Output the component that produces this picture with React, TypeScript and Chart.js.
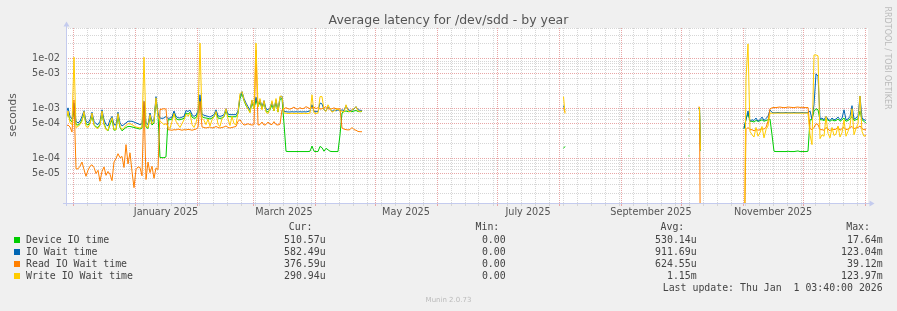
import { useEffect, useRef } from "react";
import { Chart, registerables } from "chart.js";

Chart.register(...registerables);

// ---------- text ----------
const TITLE = "Average latency for /dev/sdd - by year";
const Y_TITLE = "seconds";
const WATERMARK = "RRDTOOL / TOBI OETIKER";
const FOOTER = "Munin 2.0.73";
const LAST_UPDATE = "Last update: Thu Jan  1 03:40:00 2026";

// ---------- legend ----------
const SERIES_NAMES = ["Device IO time", "IO Wait time", "Read IO Wait time", "Write IO Wait time"];
const SERIES_COLORS = ["#00cc00", "#0066b3", "#ff8000", "#ffcc00"];
const CUR = ["510.57u", "582.49u", "376.59u", "290.94u"];
const MIN = ["0.00", "0.00", "0.00", "0.00"];
const AVG = ["530.14u", "911.69u", "624.55u", "1.15m"];
const MAX = ["17.64m", "123.04m", "39.12m", "123.97m"];

// ---------- x axis (days since 2024-11-27 12:00) ----------
const X_MAX_DAY = 401;
const MONTH_START_DAYS = [3.5, 34.5, 65.5, 93.5, 124.5, 154.5, 185.5, 215.5, 246.5, 277.5, 307.5, 338.5, 368.5, 399.5];
const FIRST_SUNDAY_DAY = 3.5;
const MONTH_LABELS = ["January 2025", "March 2025", "May 2025", "July 2025", "September 2025", "November 2025"];
const MONTH_LABEL_DAYS = [50, 109, 170, 231, 292.5, 353.5];

// ---------- y axis (seconds, log) ----------
const Y_MIN = 1.28e-5;
const Y_MAX = 4.17e-2;

// ---------- data (microseconds) ----------
// segment A: one value per day, day 0 .. 148
const SEG_A_FIRST_DAY = 0;
const DEVICE_A = [
  650, 800, 600, 540, 900, 480, 470, 500, 600, 780,
  500, 470, 520, 700, 480, 430, 420, 480, 780, 500,
  400, 360, 480, 600, 370, 380, 700, 420, 360, 390,
  420, 440, 440, 430, 420, 410, 400, 390, 410, 1100,
  430, 400, 700, 470, 520, 1500, 760,
  105, 104, 104, 108, 600, 600, 620, 820, 640, 600,
  600, 620, 640, 820, 780, 840, 680, 640, 660, 820,
  1500,
  700, 660, 650, 640, 620, 650, 690, 850, 650, 640,
  650, 690, 900, 700, 690, 690, 690, 690, 800, 1600,
  2000, 1450, 1150, 1000, 860, 1300, 1000, 1500, 1100, 1350,
  1000, 1300, 900, 860, 950, 1200, 900, 1350, 860, 1550,
  1600,
  500, 140, 138, 138, 138, 138, 138, 138, 138, 138,
  138, 138, 138, 140, 178, 140, 138, 138, 175, 165,
  140, 160, 150, 140, 138, 138, 138, 138, 300,
  820, 880, 900, 870, 880, 870, 900, 920, 880, 870, 880,
];
const IOWAIT_A = [
  800, 1040, 700, 620, 1300, 560, 520, 560, 700, 910,
  560, 520, 600, 850, 560, 500, 480, 560, 950, 600,
  480, 450, 600, 700, 480, 470, 850, 520, 450, 480,
  520, 560, 560, 560, 540, 520, 500, 480, 500, 1400,
  520, 480, 820, 560, 600, 1750, 800,
  650, 640, 650, 700, 640, 650, 680, 900, 700, 660,
  650, 680, 700, 920, 880, 940, 760, 700, 740, 900,
  1900,
  780, 740, 720, 700, 680, 720, 760, 950, 720, 700,
  720, 760, 1000, 780, 760, 760, 760, 760, 900, 1800,
  2200, 1600, 1300, 1100, 950, 1450, 1100, 1700, 1200, 1500,
  1100, 1450, 1000, 950, 1050, 1350, 1000, 1500, 950, 1700,
  1800,
  880, 870, 860, 860, 870, 860, 870, 860, 870, 860,
  870, 860, 880, 900, 1200, 880, 870, 880, 1300, 1250,
  950, 900, 1100, 1000, 880, 950, 900, 950, 900,
  950, 920, 1150, 960, 920, 940, 980, 1100, 950, 930, 920,
];
const READ_A = [
  450, 470, 430, 340, 1500, 62, 62, 70, 85, 60,
  44, 58, 70, 75, 66, 50, 58, 35, 55, 68,
  46, 55, 48, 36, 85, 100, 125, 104, 110, 66,
  190, 78, 130, 55, 26, 60, 68, 66, 45, 1400,
  38, 85, 52, 70, 40, 65, 60,
  960, 980, 1000, 980, 380, 375, 370, 380, 375, 390,
  380, 370, 380, 375, 385, 380, 370, 380, 390, 420,
  1400,
  430, 420, 410, 420, 430, 410, 420, 440, 420, 410,
  420, 430, 450, 420, 410, 420, 430, 440, 560, 600,
  520, 470, 480, 500, 480, 470, 480, 15000, 470, 480,
  540, 470, 480, 540, 490, 480, 550, 480, 470, 490,
  950,
  1000, 1050, 1000, 980, 1020, 1080, 1000, 980, 1050, 1000,
  1020, 1100, 1050, 1000, 1050, 1080, 1000, 1050, 980, 1000,
  1050, 1100, 1000, 980, 1000, 1040, 1000, 980, 1000,
  410, 390, 380, 375, 380, 420, 380, 370, 350, 345, 345,
];
const WRITE_A = [
  560, 900, 520, 480, 10800, 420, 440, 480, 560, 880,
  440, 420, 500, 820, 460, 420, 400, 460, 900, 480,
  380, 370, 520, 660, 380, 380, 800, 440, 380, 420,
  460, 500, 500, 480, 450, 430, 420, 410, 430, 10800,
  440, 420, 760, 500, 560, 1650, 700,
  560, 520, 480, 500, 440, 400, 560, 800, 560, 480,
  420, 500, 600, 780, 700, 820, 480, 420, 520, 800,
  20700,
  640, 580, 480, 620, 450, 600, 700, 880, 480, 440,
  640, 700, 1000, 620, 460, 700, 500, 480, 820, 2000,
  2200, 1500, 1200, 1000, 820, 1500, 1000, 20700, 1100, 1600,
  950, 1450, 850, 800, 1000, 1450, 900, 1600, 850, 1800,
  1750,
  820, 810, 800, 800, 810, 800, 800, 810, 800, 800,
  810, 800, 800, 820, 1900, 820, 800, 820, 1750, 1750,
  950, 880, 1200, 1000, 850, 900, 950, 1000, 880,
  900, 850, 1200, 900, 860, 950, 1000, 1100, 900, 880, 900,
];

// isolated samples in summer / autumn (null = gap)
const ISLAND_DAYS = [248.75, 249.5, 250, 311.25, 311.65, 312, 316.25, 316.75, 317.25];
const DEVICE_ISL = [160, 175, null, 113, 113, null, 1000, 1000, 144];
const IOWAIT_ISL = [1150, 950, null, 810, 820, null, 1000, 1000, 150];
const READ_ISL = [1050, 850, null, 620, 600, null, 1080, 1080, 0.5];
const WRITE_ISL = [1750, 800, null, 810, 800, null, 1050, 1050, 150];

// segment D: one value per day, day 339 .. 400
const SEG_D_FIRST_DAY = 339;
const DEVICE_D = [
  400, 620, 800, 560,
  560, 540, 580, 560, 570, 600, 560, 580, 600, 620,
  300, 140, 138, 138, 138, 138, 138, 138, 140, 138, 138, 138, 140, 142, 138, 138, 138, 138, 140,
  600, 600, 900, 1000, 950, 600,
  600, 580, 620, 590, 560, 600, 570, 580, 620, 560, 600, 650, 560, 580, 620, 700, 580, 600, 620, 900, 600, 560, 510,
];
const IOWAIT_D = [
  400, 600, 900, 560,
  600, 580, 650, 560, 600, 680, 580, 640, 700, 950,
  840, 830, 830, 840, 830, 830, 830, 840, 830, 830, 830, 840, 830, 830, 830, 840, 830, 830, 830,
  900, 620, 1200, 5000, 4500, 620,
  650, 600, 700, 620, 580, 650, 600, 620, 680, 600, 640, 950, 600, 620, 700, 1150, 620, 650, 700, 1800, 650, 600, 582,
];
const READ_D = [
  0.5, 380, 420, 380,
  380, 360, 390, 370, 380, 400, 390, 420, 560, 1000,
  1040, 1060, 1050, 1070, 1080, 1060, 1050, 1060, 1080, 1070, 1060, 1050, 1070, 1080, 1060, 1070, 1060, 1050, 1060,
  400, 380, 420, 500, 480, 380,
  380, 370, 420, 390, 360, 400, 380, 390, 430, 370, 400, 420, 380, 390, 420, 440, 400, 410, 420, 450, 400, 380, 377,
];
const WRITE_D = [
  0.5, 4000, 20000, 350,
  300, 270, 420, 280, 330, 440, 260, 380, 450, 820,
  810, 815, 815, 815, 815, 815, 815, 815, 815, 815, 815, 815, 815, 815, 815, 815, 815, 815, 815,
  300, 190, 12000, 12000, 11500, 250,
  300, 280, 700, 320, 260, 420, 290, 310, 450, 270, 330, 600, 280, 350, 450, 1000, 300, 400, 500, 1800, 350, 280, 291,
];

// ---------- styles ----------
const GRID_GRAY = "#d6d6d6";
const GRID_RED = "#e8a6a6";
const AXIS_COLOR = "#c4cbee";
const TEXT_COLOR = "#555555";
const LEGEND_TEXT = "#444444";

type Pt = { x: number; y: number | null };

function buildPoints(a: number[], isl: (number | null)[], d: number[]): Pt[] {
  const pts: Pt[] = [];
  a.forEach((v, i) => pts.push({ x: SEG_A_FIRST_DAY + i, y: v / 1e6 }));
  pts.push({ x: SEG_A_FIRST_DAY + a.length - 0.5, y: null });
  isl.forEach((v, i) => pts.push({ x: ISLAND_DAYS[i], y: v == null ? null : v / 1e6 }));
  pts.push({ x: SEG_D_FIRST_DAY - 1, y: null });
  d.forEach((v, i) => pts.push({ x: SEG_D_FIRST_DAY + i, y: v / 1e6 }));
  return pts;
}

function xTicks() {
  const t: { value: number; kind: string; label?: string }[] = [];
  MONTH_START_DAYS.forEach((v) => t.push({ value: v, kind: "month" }));
  for (let d = FIRST_SUNDAY_DAY; d < X_MAX_DAY; d += 7) {
    if (!MONTH_START_DAYS.some((m) => Math.abs(m - d) < 0.01)) t.push({ value: d, kind: "week" });
  }
  MONTH_LABEL_DAYS.forEach((v, i) => t.push({ value: v, kind: "label", label: MONTH_LABELS[i] }));
  t.sort((p, q) => p.value - q.value);
  return t;
}

function yTicks() {
  const t: { value: number; kind: string; label: string }[] = [];
  for (let e = -5; e <= -2; e++) {
    for (let k = 1; k <= 9; k++) {
      const v = k * Math.pow(10, e);
      if (v < Y_MIN || v > Y_MAX) continue;
      const major = k === 1 || k === 5;
      t.push({ value: v, kind: major ? "major" : "minor", label: major ? `${k}e-0${-e}` : "" });
    }
  }
  return t;
}

const plotDecor = {
  id: "plotDecor",
  beforeDraw(chart: any) {
    const { ctx, chartArea: a } = chart;
    ctx.save();
    ctx.fillStyle = "#ffffff";
    ctx.fillRect(a.left, a.top, a.right - a.left, a.bottom - a.top);
    ctx.restore();
  },
  afterDraw(chart: any) {
    const { ctx, chartArea: a } = chart;
    const lx = a.left + 0.5;
    const by = a.bottom + 0.5;
    ctx.save();
    ctx.strokeStyle = AXIS_COLOR;
    ctx.fillStyle = AXIS_COLOR;
    ctx.lineWidth = 1;
    ctx.beginPath();
    ctx.moveTo(lx, a.top - 2);
    ctx.lineTo(lx, a.bottom + 3);
    ctx.moveTo(a.left - 3, by);
    ctx.lineTo(a.right + 2, by);
    ctx.stroke();
    ctx.beginPath();
    ctx.moveTo(lx, a.top - 6.5);
    ctx.lineTo(lx - 3, a.top - 1.5);
    ctx.lineTo(lx + 3, a.top - 1.5);
    ctx.closePath();
    ctx.fill();
    ctx.beginPath();
    ctx.moveTo(a.right + 6.5, by);
    ctx.lineTo(a.right + 1.5, by - 3);
    ctx.lineTo(a.right + 1.5, by + 3);
    ctx.closePath();
    ctx.fill();
    ctx.restore();
  },
};

const abs = (extra: any) => ({ position: "absolute" as const, whiteSpace: "pre" as const, margin: 0, ...extra });

export default function App() {
  const ref = useRef<HTMLCanvasElement>(null);

  useEffect(() => {
    if (!ref.current) return;
    const series = [
      { a: DEVICE_A, i: DEVICE_ISL, d: DEVICE_D, order: 3 },
      { a: IOWAIT_A, i: IOWAIT_ISL, d: IOWAIT_D, order: 2 },
      { a: READ_A, i: READ_ISL, d: READ_D, order: 1 },
      { a: WRITE_A, i: WRITE_ISL, d: WRITE_D, order: 0 },
    ];
    const XT = xTicks();
    const YT = yTicks();
    const axisFont = { family: '"DejaVu Sans"', size: 9.7 };
    const chart = new Chart(ref.current, {
      type: "line",
      data: {
        datasets: series.map((s, k) => ({
          label: SERIES_NAMES[k],
          data: buildPoints(s.a, s.i, s.d),
          borderColor: SERIES_COLORS[k],
          backgroundColor: SERIES_COLORS[k],
          borderWidth: 1,
          pointRadius: 0,
          fill: false,
          tension: 0,
          spanGaps: false,
          order: s.order,
        })),
      },
      options: {
        animation: false,
        responsive: false,
        devicePixelRatio: 1,
        events: [],
        layout: { padding: { top: 28, right: 29, left: 0, bottom: 0 } },
        plugins: { legend: { display: false }, tooltip: { enabled: false }, title: { display: false } },
        scales: {
          x: {
            type: "linear",
            min: 0,
            max: X_MAX_DAY,
            afterBuildTicks: (scale: any) => {
              scale.ticks = XT.map((t) => ({ ...t }));
            },
            afterFit: (scale: any) => {
              scale.height = 108;
              scale.paddingLeft = 0;
              scale.paddingRight = 0;
            },
            ticks: {
              autoSkip: false,
              maxRotation: 0,
              minRotation: 0,
              padding: 1,
              color: TEXT_COLOR,
              font: axisFont,
              callback: (_v: any, i: number, ts: any[]) => (ts[i] && ts[i].label) || "",
            },
            grid: {
              color: (c: any) =>
                c.tick?.kind === "month" ? GRID_RED : c.tick?.kind === "week" ? GRID_GRAY : "rgba(0,0,0,0)",
              tickColor: (c: any) =>
                c.tick?.kind === "month" ? GRID_RED : c.tick?.kind === "week" ? GRID_GRAY : "rgba(0,0,0,0)",
              lineWidth: 1,
              drawTicks: true,
              tickLength: 3,
              tickBorderDash: [],
            },
            border: { display: false, dash: [1, 1] },
          },
          y: {
            type: "logarithmic",
            min: Y_MIN,
            max: Y_MAX,
            afterBuildTicks: (scale: any) => {
              scale.ticks = YT.map((t) => ({ ...t }));
            },
            afterFit: (scale: any) => {
              scale.width = 66;
              scale.paddingTop = 0;
              scale.paddingBottom = 0;
            },
            ticks: {
              autoSkip: false,
              padding: 6,
              color: TEXT_COLOR,
              font: axisFont,
              major: { enabled: false },
              callback: (_v: any, i: number, ts: any[]) => (ts[i] && ts[i].label) || "",
            },
            grid: {
              color: (c: any) => (c.tick?.kind === "major" ? GRID_RED : GRID_GRAY),
              lineWidth: 1,
              drawTicks: false,
            },
            border: { display: false, dash: [1, 1] },
          },
        },
      } as any,
      plugins: [plotDecor],
    });
    return () => chart.destroy();
  }, []);

  const mono = '9.9px "DejaVu Sans Mono", monospace';
  const rowTops = [233.9, 245.9, 257.9, 269.9];

  return (
    <div
      style={{
        position: "absolute",
        left: 0,
        top: 0,
        width: 897,
        height: 311,
        background: "#f0f0f0",
        overflow: "hidden",
        fontFamily: '"DejaVu Sans", sans-serif',
      }}
    >
      <canvas ref={ref} width={897} height={311} style={{ position: "absolute", left: 0, top: 0 }} />
      <div style={abs({ left: 0, top: 12, width: 897, textAlign: "center", font: '12.5px "DejaVu Sans"', lineHeight: "15px", color: TEXT_COLOR })}>
        {TITLE}
      </div>
      <div
        style={abs({
          left: 11.5 - 40,
          top: 115 - 7,
          width: 80,
          height: 14,
          textAlign: "center",
          font: '10.6px "DejaVu Sans"',
          lineHeight: "14px",
          color: TEXT_COLOR,
          transform: "rotate(-90deg)",
        })}
      >
        {Y_TITLE}
      </div>
      <div
        style={abs({
          left: 886.8 - 60,
          top: 57.5 - 5,
          width: 120,
          height: 10,
          textAlign: "center",
          font: '8px "DejaVu Sans"',
          lineHeight: "10px",
          color: "#bbbbbb",
          transform: "rotate(90deg)",
        })}
      >
        {WATERMARK}
      </div>

      {/* legend header */}
      <div style={abs({ right: 897 - 312.5, top: 221.2, font: mono, lineHeight: "12px", color: LEGEND_TEXT })}>Cur:</div>
      <div style={abs({ right: 897 - 499.3, top: 221.2, font: mono, lineHeight: "12px", color: LEGEND_TEXT })}>Min:</div>
      <div style={abs({ right: 897 - 684.3, top: 221.2, font: mono, lineHeight: "12px", color: LEGEND_TEXT })}>Avg:</div>
      <div style={abs({ right: 897 - 870, top: 221.2, font: mono, lineHeight: "12px", color: LEGEND_TEXT })}>Max:</div>

      {SERIES_NAMES.map((name, k) => (
        <div key={name}>
          <div style={abs({ left: 14, top: rowTops[k] + 3.3, width: 6, height: 6, background: SERIES_COLORS[k] })} />
          <div style={abs({ left: 26, top: rowTops[k], font: mono, lineHeight: "12px", color: LEGEND_TEXT })}>{name}</div>
          <div style={abs({ right: 897 - 325.7, top: rowTops[k], font: mono, lineHeight: "12px", color: LEGEND_TEXT })}>{CUR[k]}</div>
          <div style={abs({ right: 897 - 505.7, top: rowTops[k], font: mono, lineHeight: "12px", color: LEGEND_TEXT })}>{MIN[k]}</div>
          <div style={abs({ right: 897 - 696.7, top: rowTops[k], font: mono, lineHeight: "12px", color: LEGEND_TEXT })}>{AVG[k]}</div>
          <div style={abs({ right: 897 - 882.7, top: rowTops[k], font: mono, lineHeight: "12px", color: LEGEND_TEXT })}>{MAX[k]}</div>
        </div>
      ))}

      <div style={abs({ right: 897 - 882.7, top: 281.8, font: mono, lineHeight: "12px", color: LEGEND_TEXT })}>{LAST_UPDATE}</div>
      <div style={abs({ left: 0, width: 897, top: 294.5, textAlign: "center", font: '7px "DejaVu Sans"', lineHeight: "10px", color: "#bbbbbb" })}>
        {FOOTER}
      </div>
    </div>
  );
}
